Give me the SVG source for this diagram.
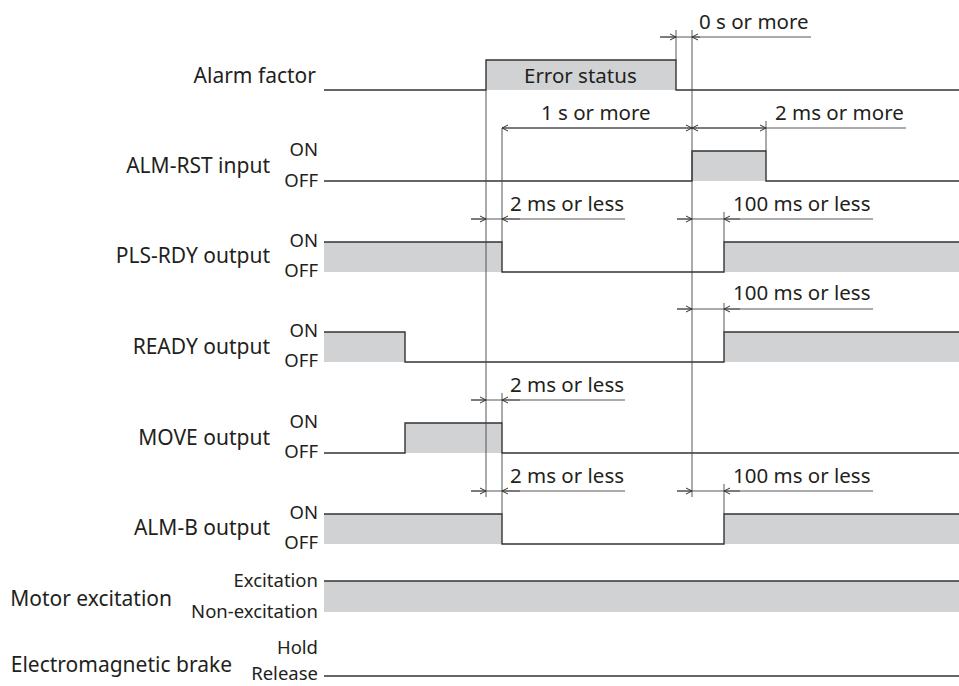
<svg xmlns="http://www.w3.org/2000/svg" width="959" height="686" viewBox="0 0 959 686">
<defs>
<style>
text{font-family:"Noto Sans","Open Sans","Liberation Sans",sans-serif;fill:#231f20}
.lbl{font-size:21px;text-anchor:end}
.st{font-size:18.5px;text-anchor:end}
.dim{font-size:20.5px}
.sig{fill:none;stroke:#333;stroke-width:1.4}
.fill{fill:#d1d2d4;stroke:none}
.ref{fill:none;stroke:#444;stroke-width:0.9}
.dl{fill:none;stroke:#444;stroke-width:0.9}
</style>
<marker id="ar" viewBox="0 0 8 8" refX="7" refY="4" markerWidth="8" markerHeight="8" markerUnits="userSpaceOnUse" orient="auto"><path d="M1,1 L7,4 L1,7" fill="none" stroke="#333" stroke-width="1"/></marker>
</defs>
<rect width="959" height="686" fill="#fff"/>

<g id="alarm-factor">
<rect class="fill" x="486" y="60" width="190" height="30"/>
<polyline class="sig" points="324,90 486,90 486,60 676,60 676,90 959,90"/>
<text class="lbl" x="316" y="83">Alarm factor</text>
<text class="dim" x="524" y="83">Error status</text>
</g>

<g id="alm-rst">
<rect class="fill" x="692" y="151" width="74" height="30"/>
<polyline class="sig" points="324,181 692,181 692,151 766,151 766,181 959,181"/>
<text class="lbl" x="270" y="173">ALM-RST input</text>
<text class="st" x="318" y="156">ON</text>
<text class="st" x="318" y="187">OFF</text>
</g>

<g id="pls-rdy">
<rect class="fill" x="324" y="242" width="178" height="30"/>
<rect class="fill" x="724" y="242" width="235" height="30"/>
<polyline class="sig" points="324,242 502,242 502,272 724,272 724,242 959,242"/>
<text class="lbl" x="270" y="263">PLS-RDY output</text>
<text class="st" x="318" y="247">ON</text>
<text class="st" x="318" y="277">OFF</text>
</g>

<g id="ready">
<rect class="fill" x="324" y="332" width="81" height="30"/>
<rect class="fill" x="724" y="332" width="235" height="30"/>
<polyline class="sig" points="324,332 405,332 405,362 724,362 724,332 959,332"/>
<text class="lbl" x="270" y="354">READY output</text>
<text class="st" x="318" y="337">ON</text>
<text class="st" x="318" y="367">OFF</text>
</g>

<g id="move">
<rect class="fill" x="405" y="423" width="97" height="30"/>
<polyline class="sig" points="324,453 405,453 405,423 502,423 502,453 959,453"/>
<text class="lbl" x="270" y="445">MOVE output</text>
<text class="st" x="318" y="428">ON</text>
<text class="st" x="318" y="458">OFF</text>
</g>

<g id="alm-b">
<rect class="fill" x="324" y="514" width="178" height="30"/>
<rect class="fill" x="724" y="514" width="235" height="30"/>
<polyline class="sig" points="324,514 502,514 502,544 724,544 724,514 959,514"/>
<text class="lbl" x="270" y="535">ALM-B output</text>
<text class="st" x="318" y="519">ON</text>
<text class="st" x="318" y="549">OFF</text>
</g>

<g id="motor-excitation">
<rect class="fill" x="324" y="581" width="635" height="31"/>
<polyline class="sig" points="324,581 959,581"/>
<text class="lbl" x="172" y="606">Motor excitation</text>
<text class="st" x="318" y="587">Excitation</text>
<text class="st" x="318" y="618">Non-excitation</text>
</g>

<g id="brake">
<polyline class="sig" points="324,676 959,676"/>
<text class="lbl" x="232" y="672">Electromagnetic brake</text>
<text class="st" x="318" y="654">Hold</text>
<text class="st" x="318" y="680">Release</text>
</g>

<g id="connectors">
<line class="ref" x1="486" y1="90" x2="486" y2="497"/>
<line class="ref" x1="502" y1="128" x2="502" y2="242"/>
<line class="ref" x1="502" y1="393" x2="502" y2="423"/>
<line class="ref" x1="502" y1="453" x2="502" y2="514"/>
<line class="ref" x1="676" y1="30" x2="676" y2="60"/>
<line class="ref" x1="692" y1="30" x2="692" y2="497"/>
<line class="ref" x1="766" y1="121" x2="766" y2="151"/>
<line class="ref" x1="724" y1="212" x2="724" y2="242"/>
<line class="ref" x1="724" y1="303" x2="724" y2="332"/>
<line class="ref" x1="724" y1="484" x2="724" y2="514"/>

<line class="dl" x1="660" y1="37" x2="811" y2="37"/>
<line class="dl" x1="660" y1="37" x2="676" y2="37" marker-end="url(#ar)"/>
<line class="dl" x1="700" y1="37" x2="692" y2="37" marker-end="url(#ar)"/>
<text class="dim" x="699" y="29">0 s or more</text>

<line class="dl" x1="502" y1="128" x2="906" y2="128"/>
<line class="dl" x1="600" y1="128" x2="502" y2="128" marker-end="url(#ar)"/>
<line class="dl" x1="600" y1="128" x2="692" y2="128" marker-end="url(#ar)"/>
<text class="dim" x="541" y="120">1 s or more</text>

<line class="dl" x1="730" y1="128" x2="692" y2="128" marker-end="url(#ar)"/>
<line class="dl" x1="730" y1="128" x2="766" y2="128" marker-end="url(#ar)"/>
<text class="dim" x="775" y="120">2 ms or more</text>

<line class="dl" x1="471" y1="219" x2="625" y2="219"/>
<line class="dl" x1="471" y1="219" x2="486" y2="219" marker-end="url(#ar)"/>
<line class="dl" x1="520" y1="219" x2="502" y2="219" marker-end="url(#ar)"/>
<text class="dim" x="510" y="211">2 ms or less</text>
<line class="dl" x1="677" y1="219" x2="873" y2="219"/>
<line class="dl" x1="677" y1="219" x2="692" y2="219" marker-end="url(#ar)"/>
<line class="dl" x1="740" y1="219" x2="724" y2="219" marker-end="url(#ar)"/>
<text class="dim" x="733" y="211">100 ms or less</text>

<line class="dl" x1="677" y1="309" x2="873" y2="309"/>
<line class="dl" x1="677" y1="309" x2="692" y2="309" marker-end="url(#ar)"/>
<line class="dl" x1="740" y1="309" x2="724" y2="309" marker-end="url(#ar)"/>
<text class="dim" x="733" y="300">100 ms or less</text>

<line class="dl" x1="471" y1="400" x2="625" y2="400"/>
<line class="dl" x1="471" y1="400" x2="486" y2="400" marker-end="url(#ar)"/>
<line class="dl" x1="520" y1="400" x2="502" y2="400" marker-end="url(#ar)"/>
<text class="dim" x="510" y="392">2 ms or less</text>

<line class="dl" x1="471" y1="491" x2="625" y2="491"/>
<line class="dl" x1="471" y1="491" x2="486" y2="491" marker-end="url(#ar)"/>
<line class="dl" x1="520" y1="491" x2="502" y2="491" marker-end="url(#ar)"/>
<text class="dim" x="510" y="483">2 ms or less</text>
<line class="dl" x1="677" y1="491" x2="873" y2="491"/>
<line class="dl" x1="677" y1="491" x2="692" y2="491" marker-end="url(#ar)"/>
<line class="dl" x1="740" y1="491" x2="724" y2="491" marker-end="url(#ar)"/>
<text class="dim" x="733" y="483">100 ms or less</text>
</g>
</svg>
